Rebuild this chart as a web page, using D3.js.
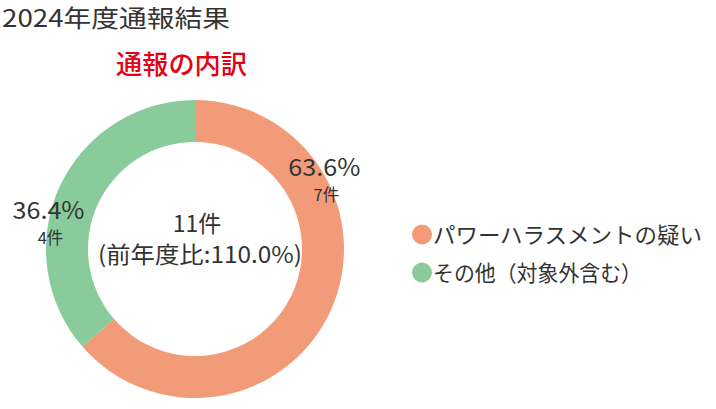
<!DOCTYPE html>
<html><head><meta charset="utf-8">
<script src="https://cdn.jsdelivr.net/npm/d3@7"></script>
<style>
html,body{margin:0;padding:0;background:#fff;}
text{font-family:"Noto Sans CJK JP","Noto Sans",sans-serif;}
</style></head>
<body>
<svg id="chart" width="716" height="409"></svg>
<script>
const title = "2024年度通報結果";
const subtitle = "通報の内訳";
const categories = ["パワーハラスメントの疑い", "その他（対象外含む）"];
const values = [7, 4];
const colors = ["#F29B79", "#89CB9B"];
const unit = "件";
const prevYearRatio = "110.0%";

const W = 716, H = 409;
const cx = 195, cy = 249, rOuter = 149, rInner = 107;
const textColor = "#333333";
const svg = d3.select("#chart");

svg.append("text").attr("x", 2).attr("y", 26.5)
  .attr("font-size", 24).attr("fill", textColor)
  .attr("textLength", 228).attr("lengthAdjust", "spacingAndGlyphs").text(title);

svg.append("text").attr("x", 181.5).attr("y", 74).attr("text-anchor", "middle")
  .attr("font-size", 26).attr("font-weight", 500).attr("fill", "#E50012")
  .attr("textLength", 131).attr("lengthAdjust", "spacingAndGlyphs").text(subtitle);

const total = d3.sum(values);
const pie = d3.pie().sort(null).value(d => d)(values);
const arc = d3.arc().innerRadius(rInner).outerRadius(rOuter);
const g = svg.append("g").attr("transform", `translate(${cx},${cy})`);
g.selectAll("path").data(pie).join("path")
  .attr("d", arc).attr("fill", (d, i) => colors[i]);

// labels placed at fixed angle within each slice (fraction of slice)
const labelFrac = [0.28, 0.375];
const labelR = 146;
pie.forEach((d, i) => {
  const a = d.startAngle + (d.endAngle - d.startAngle) * labelFrac[i];
  const x = Math.sin(a) * labelR, y = -Math.cos(a) * labelR;
  const pct = (values[i] / total * 100).toFixed(1) + "%";
  g.append("text").attr("x", x - 2).attr("y", y - 9).attr("text-anchor", "middle")
    .attr("font-size", 24).attr("fill", textColor)
    .attr("textLength", 72).attr("lengthAdjust", "spacingAndGlyphs").text(pct);
  g.append("text").attr("x", x).attr("y", y + 15.5).attr("text-anchor", "middle")
    .attr("font-size", 16.5).attr("fill", textColor).text(values[i] + unit);
});

g.append("text").attr("x", 2).attr("y", -17).attr("text-anchor", "middle")
  .attr("font-size", 23).attr("fill", textColor).text(total + unit);
g.append("text").attr("x", 5).attr("y", 14).attr("text-anchor", "middle")
  .attr("font-size", 23).attr("fill", textColor)
  .attr("textLength", 204).attr("lengthAdjust", "spacingAndGlyphs")
  .text("(前年度比:" + prevYearRatio + ")");

const leg = svg.append("g");
const legLen = [269, 209];
categories.forEach((c, i) => {
  const y = 234.5 + i * 38;
  leg.append("circle").attr("cx", 422).attr("cy", y).attr("r", 10).attr("fill", colors[i]);
  leg.append("text").attr("x", 433).attr("y", y + 8).attr("font-size", 22)
    .attr("fill", textColor)
    .attr("textLength", legLen[i]).attr("lengthAdjust", "spacingAndGlyphs").text(c);
});
</script>
</body></html>
